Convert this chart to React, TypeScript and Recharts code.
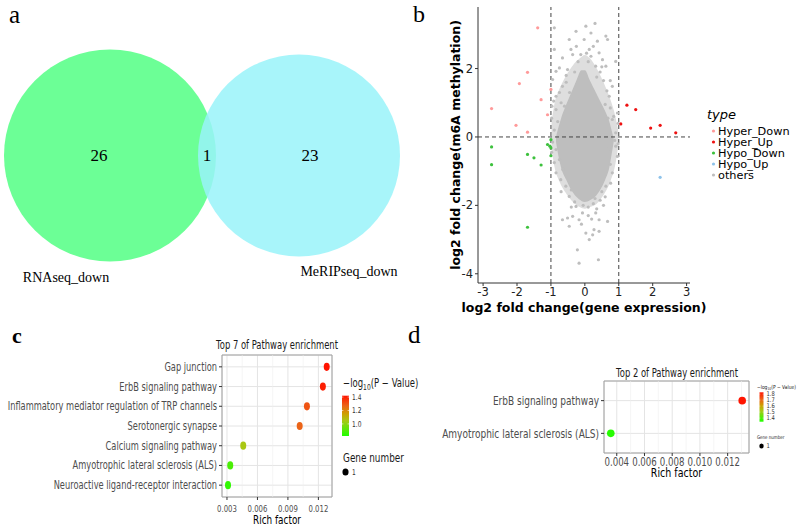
import {
  Area,
  CartesianGrid,
  ComposedChart,
  Label,
  Legend,
  ReferenceArea,
  ReferenceLine,
  Scatter,
  ScatterChart,
  XAxis,
  YAxis,
} from "recharts";

// ---------- a: Venn ----------
const vennNames = ["RNAseq_down", "MeRIPseq_down"];
const vennCounts = [26, 23];
const vennShared = 1;

// ---------- b: four-quadrant scatter ----------
const bTypes = ["Hyper_Down", "Hyper_Up", "Hypo_Down", "Hypo_Up", "others"];
const bXTicks = [-3, -2, -1, 0, 1, 2, 3];
const bYTicks = [-4, -2, 0, 2];
const bHyperDown = [
  [-1.39, 3.19], [-1.69, 1.89], [-1.93, 1.56], [-1.29, 1.09], [-1.0, 1.39],
  [-1.1, 0.65], [-2.75, 0.83], [-2.03, 0.34], [-1.69, 0.14],
];
const bHyperUp = [
  [1.24, 0.93], [1.5, 0.8], [1.06, 0.38], [1.94, 0.26], [2.22, 0.34], [2.68, 0.12],
];
const bHypoDown = [
  [-2.75, -0.29], [-2.75, -0.81], [-1.69, -0.51], [-1.5, -0.61], [-1.29, -0.82],
  [-1.1, -0.22], [-1.03, -0.27], [-1.0, -0.32], [-1.0, -0.55], [-1.69, -2.64], [-1.0, -0.08],
];
const bHypoUp = [[2.22, -1.18]];
// medium-density part of the "others" cloud: lower / upper edge at each x
const bHaloX = [-0.98, -0.9, -0.75, -0.55, -0.35, -0.15, 0, 0.15, 0.35, 0.55, 0.75, 0.9, 0.98];
const bHaloLow = [-0.35, -0.85, -1.3, -1.65, -1.9, -2.05, -2.1, -2.05, -1.95, -1.7, -1.3, -0.8, -0.3];
const bHaloHigh = [0.45, 0.95, 1.4, 1.8, 2.1, 2.3, 2.4, 2.3, 2.0, 1.6, 1.1, 0.6, 0.2];
// dense centre of the "others" cloud
const bCoreX = [-0.85, -0.8, -0.7, -0.55, -0.4, -0.25, -0.1, 0, 0.15, 0.3, 0.45, 0.6, 0.72, 0.8, 0.85];
const bCoreLow = [-0.15, -0.45, -0.9, -1.25, -1.55, -1.75, -1.87, -1.9, -1.85, -1.75, -1.55, -1.25, -0.9, -0.45, -0.15];
const bCoreHigh = [0.0, 0.2, 0.55, 0.95, 1.3, 1.65, 1.95, 1.95, 1.65, 1.35, 1.05, 0.75, 0.45, 0.15, -0.05];
// scattered "others" outside the dense centre
const bOthers = [
  [-0.9, 3.19], [-0.26, 3.09], [0.03, 3.24], [0.3, 3.32], [0.18, 3.04], [0.62, 2.95], [0.67, 2.85],
  [-0.46, 2.85], [-0.02, 2.85], [0.37, 2.8], [0.91, 2.21], [-0.9, 2.56], [-0.41, 2.56], [0.13, 2.56],
  [0.42, 2.46], [-0.66, 2.31], [-0.36, 2.41], [-0.12, 2.41], [0.18, 2.36], [0.52, 2.26], [0.62, 2.07],
  [-0.75, 2.02], [-0.85, 1.92], [-0.51, 1.97], [0.32, 2.07], [0.81, 1.48], [0.72, 1.19], [-0.95, 1.68],
  [-0.66, 1.48], [-0.85, 1.19], [-0.97, 0.9], [-0.85, 0.8], [0.25, 2.65], [-0.2, 2.2], [0.05, 2.45],
  [0.45, 1.9], [0.55, 1.65], [-0.55, 1.6], [-0.45, 1.3], [0.65, 1.35], [-0.7, 1.0], [0.75, 0.85],
  [-0.3, 1.9], [0.35, 1.75], [0.1, 2.2], [-0.6, 0.9], [0.6, 0.95], [0.68, 0.55], [0.85, 0.6],
  [-0.8, 0.45], [-0.9, 0.2], [0.96, 0.7], [0.81, 0.51], [0.91, 0.12], [0.91, -0.27], [0.96, -0.57],
  [0.81, -1.05], [0.76, -1.35], [0.62, -1.44], [0.88, -0.1], [0.75, -0.8], [0.7, -0.35],
  [-0.85, -0.37], [-0.75, -0.66], [-0.85, -1.05], [-0.71, -1.25], [-0.56, -1.44], [-0.46, -1.74],
  [-0.95, -0.15], [-0.65, -0.95], [-0.78, -0.2], [-0.26, -2.03], [-0.07, -2.22], [-0.36, -2.32],
  [-0.51, -2.37], [-0.17, -2.42], [0.32, -2.22], [0.42, -2.42], [0.27, -2.71], [0.42, -2.76],
  [0.67, -2.47], [0.23, -2.86], [0.03, -2.81], [-0.22, -3.3], [0.4, -3.59], [-0.17, -3.69],
  [0.13, -3.0], [-0.66, -2.42], [-0.46, -2.61], [0.1, -2.05], [0.25, -1.95], [-0.3, -1.9],
  [0.45, -1.85], [0.5, -1.6], [-0.4, -1.55], [0.55, -2.0], [-0.1, -2.55], [0.2, -2.4], [-0.05, -2.0],
  [0.35, -2.1], [0.3, -1.8], [-0.98, 0.55], [-0.98, -0.45], [-0.92, 1.05], [-0.9, -0.75],
  [0.98, 0.4], [0.98, -0.2], [-0.55, 1.8], [0.5, 2.05], [-0.7, -1.6], [0.6, -1.75], [-0.25, 2.65],
  [0.1, -2.3], [-0.4, -2.05], [0.75, 1.65], [-0.75, 1.3],
];

// ---------- c: pathway enrichment (top 7) ----------
const cPathways = [
  "Gap junction",
  "ErbB signaling pathway",
  "Inflammatory mediator regulation of TRP channels",
  "Serotonergic synapse",
  "Calcium signaling pathway",
  "Amyotrophic lateral sclerosis (ALS)",
  "Neuroactive ligand-receptor interaction",
];
const cRich = [0.01282, 0.01244, 0.01087, 0.01016, 0.0046, 0.00332, 0.0031];
const cLogP = [1.42, 1.4, 1.3, 1.27, 1.05, 0.89, 0.85];
const cXTicks = [0.003, 0.006, 0.009, 0.012];
const cXMinor = [0.0045, 0.0075, 0.0105];
const cLegendTicks = [1.0, 1.2, 1.4];
const cLogPRange = [0.82, 1.42];

// ---------- d: pathway enrichment (top 2) ----------
const dPathways = ["ErbB signaling pathway", "Amyotrophic lateral sclerosis (ALS)"];
const dRich = [0.01305, 0.00357];
const dLogP = [1.83, 1.35];
const dXTicks = [0.004, 0.006, 0.008, 0.01, 0.012];
const dXMinor = [0.005, 0.007, 0.009, 0.011, 0.013];
const dLegendTicks = [1.4, 1.5, 1.6, 1.7, 1.8];
const dLogPRange = [1.34, 1.83];

const typeColors = ["#FF9A9A", "#EE1111", "#3DC13D", "#8EC3EA", "#BEBEBE"];
const SANS = "DejaVu Sans";
const SERIF = "Liberation Serif, Times New Roman, serif";

// green -> red, as the enrichment colour scale
const heatStops: [number, number[]][] = [
  [0, [32, 255, 0]],
  [0.38, [168, 200, 20]],
  [0.55, [205, 160, 0]],
  [0.75, [235, 100, 24]],
  [1, [255, 20, 0]],
];
function heat(t: number) {
  const v = Math.max(0, Math.min(1, t));
  for (let i = 1; i < heatStops.length; i++) {
    const [t1, c1] = heatStops[i];
    const [t0, c0] = heatStops[i - 1];
    if (v <= t1) {
      const k = (v - t0) / (t1 - t0);
      const c = c0.map((a, j) => Math.round(a + (c1[j] - a) * k));
      return `rgb(${c[0]},${c[1]},${c[2]})`;
    }
  }
  return "rgb(255,20,0)";
}

const pts = (arr: number[][]) => arr.map(([x, y]) => ({ x, y }));

function squeezedTick(o: {
  size: number;
  sx: number;
  anchor: "start" | "middle" | "end";
  dy: string;
  color: string;
  fmt?: (v: any) => string;
}) {
  return (p: any) => {
    const label = o.fmt ? o.fmt(p.payload.value) : String(p.payload.value);
    return (
      <text
        transform={`translate(${p.x},${p.y}) scale(${o.sx},1)`}
        textAnchor={o.anchor}
        dy={o.dy}
        fontSize={o.size}
        fontFamily={SANS}
        fill={o.color}
      >
        {label}
      </text>
    );
  };
}

function Letter({ ch, left, top, size, bold }: any) {
  return (
    <div
      style={{
        position: "absolute",
        left,
        top,
        fontFamily: SERIF,
        fontSize: size,
        lineHeight: 1,
        fontWeight: bold ? "bold" : "normal",
      }}
    >
      {ch}
    </div>
  );
}

function Title({ text, cx, cy, sx }: any) {
  return (
    <div
      style={{
        position: "absolute",
        left: cx - 120,
        top: cy - 8,
        width: 240,
        textAlign: "center",
        fontFamily: SANS,
        fontSize: 11.5,
        lineHeight: "16px",
        transform: `scaleX(${sx})`,
        color: "#1a1a1a",
      }}
    >
      {text}
    </div>
  );
}

// ---------- a ----------
function VennPanel() {
  // circles and labels in the diagram's own 410 x 300 space
  const circles = [
    { x: 110, y: 155.5, r: 106, fill: "#6CFF96", op: 1 },
    { x: 299, y: 155.5, r: 101, fill: "#99F3F9", op: 0.85 },
  ];
  const labels = [
    { x: 99, y: 155, text: String(vennCounts[0]), size: 17 },
    { x: 207, y: 155, text: String(vennShared), size: 17 },
    { x: 310, y: 155, text: String(vennCounts[1]), size: 17 },
    { x: 66, y: 277, text: vennNames[0], size: 14 },
    { x: 349, y: 271, text: vennNames[1], size: 14 },
  ];
  return (
    <div style={{ position: "absolute", left: 0, top: 0 }}>
      <ScatterChart width={410} height={300} margin={{ top: 0, right: 0, bottom: 0, left: 0 }}>
        <XAxis type="number" dataKey="x" domain={[0, 410]} hide allowDataOverflow />
        <YAxis type="number" dataKey="y" domain={[0, 300]} reversed hide allowDataOverflow />
        <Scatter
          data={circles}
          isAnimationActive={false}
          shape={(p: any) => (
            <circle cx={p.cx} cy={p.cy} r={p.payload.r} fill={p.payload.fill} fillOpacity={p.payload.op} />
          )}
        />
        <Scatter
          data={labels}
          isAnimationActive={false}
          shape={(p: any) => (
            <text x={p.cx} y={p.cy} dy="0.35em" textAnchor="middle" fontFamily={SERIF} fontSize={p.payload.size} fill="#000">
              {p.payload.text}
            </text>
          )}
        />
      </ScatterChart>
    </div>
  );
}

// ---------- b ----------
function BLegend() {
  return (
    <svg width={100} height={80}>
      <text x={2} y={14} fontFamily={SANS} fontStyle="italic" fontSize={13} fill="#000">
        type
      </text>
      {bTypes.map((t, i) => (
        <g key={t}>
          <circle cx={8.5} cy={26 + i * 11} r={1.6} fill={typeColors[i]} />
          <text x={13} y={30 + i * 11} fontFamily={SANS} fontSize={11.3} fill="#000">
            {t}
          </text>
        </g>
      ))}
    </svg>
  );
}

function VolcanoPanel() {
  const cloud = bHaloX
    .map((x, i) => ({ x, halo: [bHaloLow[i], bHaloHigh[i]] }))
    .concat(bCoreX.map((x, i) => ({ x, core: [bCoreLow[i], bCoreHigh[i]] })) as any)
    .sort((a: any, b: any) => a.x - b.x);
  const groups = [bHyperDown, bHyperUp, bHypoDown, bHypoUp];
  const dot = (color: string) => (p: any) => <circle cx={p.cx} cy={p.cy} r={1.6} fill={color} />;
  const axisText = { fontSize: 11.5, fontFamily: SANS, fill: "#222" };
  return (
    <div style={{ position: "absolute", left: 400, top: 0 }}>
      <ComposedChart width={400} height={320} data={cloud} margin={{ top: 7, right: 110, bottom: 0, left: 0 }}>
        <XAxis
          type="number"
          dataKey="x"
          domain={[-3.15, 3.1]}
          ticks={bXTicks}
          interval={0}
          allowDataOverflow
          height={37}
          tickSize={3}
          tick={axisText}
          axisLine={{ stroke: "#333" }}
          tickLine={{ stroke: "#333" }}
        >
          <Label
            content={(p: any) => (
              <text
                x={p.viewBox.x + p.viewBox.width / 2}
                y={p.viewBox.y + 29}
                textAnchor="middle"
                fontFamily={SANS}
                fontWeight="bold"
                fontSize={12.5}
                fill="#000"
              >
                log2 fold change(gene expression)
              </text>
            )}
          />
        </XAxis>
        <YAxis
          type="number"
          dataKey="y"
          domain={[-4.27, 3.8]}
          ticks={bYTicks}
          interval={0}
          allowDataOverflow
          width={78}
          tickSize={3}
          tick={axisText}
          axisLine={{ stroke: "#333" }}
          tickLine={{ stroke: "#333" }}
        >
          <Label
            content={(p: any) => (
              <text
                transform={`translate(60,${p.viewBox.y + p.viewBox.height / 2}) rotate(-90)`}
                textAnchor="middle"
                fontFamily={SANS}
                fontWeight="bold"
                fontSize={12.5}
                fill="#000"
              >
                log2 fold change(m6A methylation)
              </text>
            )}
          />
        </YAxis>
        <Area
          dataKey="halo"
          type="monotone"
          connectNulls
          stroke="none"
          fill="#DEDEDE"
          fillOpacity={1}
          isAnimationActive={false}
        />
        <Area
          dataKey="core"
          type="monotone"
          connectNulls
          stroke="none"
          fill="#BEBEBE"
          fillOpacity={1}
          isAnimationActive={false}
        />
        <Scatter data={pts(bOthers)} shape={dot(typeColors[4])} isAnimationActive={false} />
        {groups.map((g, i) => (
          <Scatter key={bTypes[i]} data={pts(g)} shape={dot(typeColors[i])} isAnimationActive={false} />
        ))}
        <ReferenceLine x={-1} stroke="#444" strokeDasharray="4 3" />
        <ReferenceLine x={1} stroke="#444" strokeDasharray="4 3" />
        <ReferenceLine y={0} stroke="#444" strokeDasharray="4 3" />
        <Legend
          layout="horizontal"
          verticalAlign="middle"
          align="center"
          wrapperStyle={{ left: 305, top: 105, width: 100, height: 80 }}
          content={() => <BLegend />}
        />
      </ComposedChart>
    </div>
  );
}

// ---------- c / d shared legend ----------
function HeatLegend(o: {
  id: string;
  range: number[];
  ticks: number[];
  w: number;
  h: number;
  titleY: number;
  titleSize: number;
  bar: { x: number; y: number; w: number; h: number };
  tickSize: number;
  geneY: number;
  geneSize: number;
  dotY: number;
  dotR: number;
  sx: number;
}) {
  const [lo, hi] = o.range;
  const yOf = (v: number) => o.bar.y + ((hi - v) / (hi - lo)) * o.bar.h;
  const lx = o.bar.x + o.bar.w + 3;
  return (
    <svg width={o.w} height={o.h}>
      <defs>
        <linearGradient id={o.id} x1="0" y1="0" x2="0" y2="1">
          {heatStops
            .slice()
            .reverse()
            .map(([t]) => (
              <stop key={t} offset={1 - t} stopColor={heat(t)} />
            ))}
        </linearGradient>
      </defs>
      <text
        transform={`translate(2,${o.titleY}) scale(${o.sx},1)`}
        fontFamily={SANS}
        fontSize={o.titleSize}
        fill="#1a1a1a"
      >
        −log
        <tspan fontSize={o.titleSize * 0.7} dy={o.titleSize * 0.3}>
          10
        </tspan>
        <tspan dy={-o.titleSize * 0.3}>(P − Value)</tspan>
      </text>
      <rect x={o.bar.x} y={o.bar.y} width={o.bar.w} height={o.bar.h} fill={`url(#${o.id})`} />
      {o.ticks.map((t) => (
        <g key={t}>
          <line x1={o.bar.x} x2={o.bar.x + o.bar.w * 0.2} y1={yOf(t)} y2={yOf(t)} stroke="#fff" strokeWidth={0.6} />
          <line x1={o.bar.x + o.bar.w * 0.8} x2={o.bar.x + o.bar.w} y1={yOf(t)} y2={yOf(t)} stroke="#fff" strokeWidth={0.6} />
          <text
            transform={`translate(${lx},${yOf(t)}) scale(${o.sx},1)`}
            dy="0.35em"
            fontFamily={SANS}
            fontSize={o.tickSize}
            fill="#333"
          >
            {t.toFixed(1)}
          </text>
        </g>
      ))}
      <text
        transform={`translate(2,${o.geneY}) scale(${o.sx},1)`}
        fontFamily={SANS}
        fontSize={o.geneSize}
        fill="#1a1a1a"
      >
        Gene number
      </text>
      <ellipse cx={o.bar.x + o.bar.w / 2} cy={o.dotY} rx={o.dotR * 0.85} ry={o.dotR} fill="#000" />
      <text
        transform={`translate(${lx},${o.dotY}) scale(${o.sx},1)`}
        dy="0.35em"
        fontFamily={SANS}
        fontSize={o.tickSize}
        fill="#333"
      >
        1
      </text>
    </svg>
  );
}

// ---------- c ----------
function EnrichC() {
  const data = cPathways.map((name, i) => ({
    rich: cRich[i],
    idx: i,
    color: heat((cLogP[i] - cLogPRange[0]) / (cLogPRange[1] - cLogPRange[0])),
  }));
  const xDom = [0.00251, 0.01334];
  const yDom = [-0.6, cPathways.length - 1 + 0.6];
  return (
    <div style={{ position: "absolute", left: 0, top: 330 }}>
      <ScatterChart width={420} height={196} margin={{ top: 25, right: 88, bottom: 0, left: 0 }}>
        <CartesianGrid stroke="#E4E4E4" />
        {cXMinor.map((v) => (
          <ReferenceLine key={v} x={v} stroke="#EFEFEF" strokeWidth={0.6} />
        ))}
        <XAxis
          type="number"
          dataKey="rich"
          domain={xDom}
          ticks={cXTicks}
          interval={0}
          allowDataOverflow
          height={29}
          tickSize={3}
          tickMargin={5}
          axisLine={false}
          tickLine={{ stroke: "#333" }}
          tick={squeezedTick({ size: 9.5, sx: 0.73, anchor: "middle", dy: "0.71em", color: "#4D4D4D", fmt: (v) => v.toFixed(3) })}
        >
          <Label
            content={(p: any) => (
              <text
                transform={`translate(${p.viewBox.x + p.viewBox.width / 2},${p.viewBox.y + 27}) scale(0.74,1)`}
                textAnchor="middle"
                fontFamily={SANS}
                fontSize={12}
                fill="#000"
              >
                Rich factor
              </text>
            )}
          />
        </XAxis>
        <YAxis
          type="number"
          dataKey="idx"
          domain={yDom}
          ticks={cPathways.map((_, i) => i)}
          interval={0}
          reversed
          allowDataOverflow
          width={222}
          tickSize={3}
          axisLine={false}
          tickLine={{ stroke: "#333" }}
          tick={squeezedTick({ size: 11.5, sx: 0.72, anchor: "end", dy: "0.35em", color: "#4D4D4D", fmt: (v) => cPathways[v] })}
        />
        <ReferenceArea x1={xDom[0]} x2={xDom[1]} y1={yDom[0]} y2={yDom[1]} fill="none" stroke="#A0A0A0" />
        <Scatter
          data={data}
          isAnimationActive={false}
          shape={(p: any) => <ellipse cx={p.cx} cy={p.cy} rx={3} ry={4.1} fill={p.payload.color} />}
        />
        <Legend
          layout="horizontal"
          verticalAlign="middle"
          align="center"
          wrapperStyle={{ left: 341, top: 46, width: 80, height: 104 }}
          content={() => (
            <HeatLegend
              id="gradC"
              range={cLogPRange}
              ticks={cLegendTicks}
              w={80}
              h={104}
              titleY={11}
              titleSize={11.5}
              bar={{ x: 1, y: 19.7, w: 7, h: 40.3 }}
              tickSize={8}
              geneY={86}
              geneSize={12}
              dotY={96}
              dotR={3.6}
              sx={0.74}
            />
          )}
        />
      </ScatterChart>
    </div>
  );
}

// ---------- d ----------
function EnrichD() {
  const data = dPathways.map((name, i) => ({
    rich: dRich[i],
    idx: i,
    color: heat((dLogP[i] - dLogPRange[0]) / (dLogPRange[1] - dLogPRange[0])),
  }));
  const xDom = [0.00308, 0.01354];
  const yDom = [-0.6, dPathways.length - 1 + 0.6];
  return (
    <div style={{ position: "absolute", left: 400, top: 340 }}>
      <ScatterChart width={400} height={150} margin={{ top: 41, right: 51, bottom: 0, left: 0 }}>
        <CartesianGrid stroke="#E4E4E4" />
        {dXMinor.map((v) => (
          <ReferenceLine key={v} x={v} stroke="#EFEFEF" strokeWidth={0.6} />
        ))}
        <XAxis
          type="number"
          dataKey="rich"
          domain={xDom}
          ticks={dXTicks}
          interval={0}
          allowDataOverflow
          height={37}
          tickSize={3}
          tickMargin={2}
          axisLine={false}
          tickLine={{ stroke: "#333" }}
          tick={squeezedTick({ size: 11.5, sx: 0.75, anchor: "middle", dy: "0.71em", color: "#4D4D4D", fmt: (v) => v.toFixed(3) })}
        >
          <Label
            content={(p: any) => (
              <text
                transform={`translate(${p.viewBox.x + p.viewBox.width / 2},${p.viewBox.y + 24}) scale(0.73,1)`}
                textAnchor="middle"
                fontFamily={SANS}
                fontSize={13}
                fill="#000"
              >
                Rich factor
              </text>
            )}
          />
        </XAxis>
        <YAxis
          type="number"
          dataKey="idx"
          domain={yDom}
          ticks={dPathways.map((_, i) => i)}
          interval={0}
          reversed
          allowDataOverflow
          width={204}
          tickSize={3}
          axisLine={false}
          tickLine={{ stroke: "#333" }}
          tick={squeezedTick({ size: 12, sx: 0.75, anchor: "end", dy: "0.35em", color: "#4D4D4D", fmt: (v) => dPathways[v] })}
        />
        <ReferenceArea x1={xDom[0]} x2={xDom[1]} y1={yDom[0]} y2={yDom[1]} fill="none" stroke="#A0A0A0" />
        <Scatter
          data={data}
          isAnimationActive={false}
          shape={(p: any) => <circle cx={p.cx} cy={p.cy} r={3.8} fill={p.payload.color} />}
        />
        <Legend
          layout="horizontal"
          verticalAlign="middle"
          align="center"
          wrapperStyle={{ left: 355, top: 43, width: 45, height: 70 }}
          content={() => (
            <HeatLegend
              id="gradD"
              range={dLogPRange}
              ticks={dLegendTicks}
              w={45}
              h={70}
              titleY={5.5}
              titleSize={5.5}
              bar={{ x: 4.5, y: 9.3, w: 4, h: 29.4 }}
              tickSize={6.5}
              geneY={55.5}
              geneSize={5}
              dotY={63}
              dotR={2.6}
              sx={0.8}
            />
          )}
        />
      </ScatterChart>
    </div>
  );
}

export default function App() {
  return (
    <div
      style={{
        position: "absolute",
        left: 0,
        top: 0,
        width: 800,
        height: 526,
        background: "#fff",
        overflow: "hidden",
      }}
    >
      <VennPanel />
      <VolcanoPanel />
      <EnrichC />
      <EnrichD />
      <Title text="Top 7 of Pathway enrichment" cx={277} cy={345} sx={0.73} />
      <Title text="Top 2 of Pathway enrichment" cx={676.5} cy={372.5} sx={0.73} />
      <Letter ch="a" left={9} top={1.5} size={25} />
      <Letter ch="b" left={413} top={2} size={24} />
      <Letter ch="c" left={12} top={324.6} size={22} bold />
      <Letter ch="d" left={408} top={322} size={25} />
    </div>
  );
}
